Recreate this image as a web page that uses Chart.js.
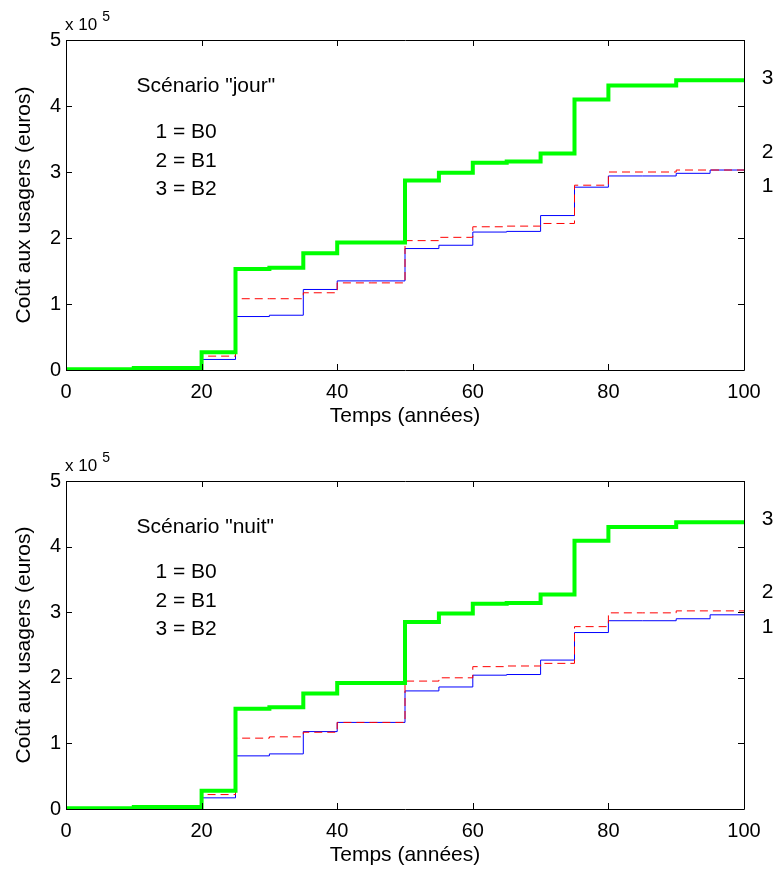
<!DOCTYPE html>
<html>
<head>
<meta charset="utf-8">
<script src="https://cdn.jsdelivr.net/npm/chart.js@4.4.0/dist/chart.umd.min.js"></script>
<style>
  body { margin: 0; background: #fff; }
  .box { position: absolute; left: 0; width: 775px; height: 436px; }
</style>
</head>
<body>
<div class="box" style="top:0"><canvas id="jourChart"></canvas></div>
<div class="box" style="top:436px"><canvas id="nuitChart"></canvas></div>
<script>
// années, pas de 5 ans ; coûts en unités de 10^5 euros
var years = [0, 5, 10, 15, 20, 25, 30, 35, 40, 45, 50, 55, 60, 65, 70, 75, 80, 85, 90, 95, 100];

var jourB0 = [0, 0, 0.01, 0.01, 0.16, 0.81, 0.83, 1.22, 1.35, 1.35, 1.84, 1.89, 2.09, 2.10, 2.34, 2.77, 2.94, 2.94, 2.98, 3.03, 3.03];
var jourB1 = [0, 0, 0.01, 0.01, 0.21, 1.08, 1.08, 1.17, 1.32, 1.32, 1.96, 2.01, 2.17, 2.18, 2.22, 2.80, 3.00, 3.00, 3.03, 3.03, 3.03];
var jourB2 = [0.01, 0.01, 0.03, 0.03, 0.27, 1.53, 1.55, 1.77, 1.93, 1.93, 2.87, 2.99, 3.14, 3.16, 3.28, 4.10, 4.31, 4.31, 4.39, 4.39, 4.39];

var nuitB0 = [0, 0, 0.01, 0.01, 0.17, 0.81, 0.84, 1.18, 1.32, 1.32, 1.80, 1.86, 2.04, 2.05, 2.27, 2.69, 2.87, 2.87, 2.90, 2.96, 2.96];
var nuitB1 = [0, 0, 0.01, 0.01, 0.22, 1.08, 1.10, 1.17, 1.32, 1.32, 1.95, 2.00, 2.17, 2.18, 2.22, 2.78, 2.99, 2.99, 3.02, 3.02, 3.02];
var nuitB2 = [0.01, 0.01, 0.03, 0.03, 0.28, 1.53, 1.55, 1.76, 1.92, 1.92, 2.85, 2.98, 3.13, 3.14, 3.27, 4.09, 4.30, 4.30, 4.37, 4.37, 4.37];

var xTicks = [0, 20, 40, 60, 80, 100];
var yTicks = [0, 1, 2, 3, 4, 5];
var legendLines = ["1 = B0", "2 = B1", "3 = B2"];
var curveNames = ["1", "2", "3"];

var FONT = "'Liberation Sans', Arial, Helvetica, sans-serif";

function toPoints(values)
{
    return values.map(function (v, i) { return { x: years[i], y: v }; });
}

// boite et graduations vers l'interieur, comme matlab, plus les textes
var matlabAxes = {
    id: "matlabAxes",
    afterDraw: function (chart, args, opts)
    {
        var ctx = chart.ctx;
        var a = chart.chartArea;
        var xs = chart.scales.x, ys = chart.scales.y;
        ctx.save();
        ctx.strokeStyle = "#000";
        ctx.lineWidth = 1;
        ctx.beginPath();
        ctx.rect(Math.round(a.left) + 0.5, Math.round(a.top) + 0.5,
                 Math.round(a.right - a.left), Math.round(a.bottom - a.top));
        xTicks.forEach(function (t) {
            var px = Math.round(xs.getPixelForValue(t)) + 0.5;
            ctx.moveTo(px, a.bottom); ctx.lineTo(px, a.bottom - 6);
            ctx.moveTo(px, a.top); ctx.lineTo(px, a.top + 6);
        });
        yTicks.forEach(function (t) {
            var py = Math.round(ys.getPixelForValue(t)) + 0.5;
            ctx.moveTo(a.left, py); ctx.lineTo(a.left + 6, py);
            ctx.moveTo(a.right, py); ctx.lineTo(a.right - 6, py);
        });
        ctx.stroke();

        ctx.fillStyle = "#000";
        ctx.textBaseline = "alphabetic";
        ctx.textAlign = "left";
        // x 10^5
        ctx.font = "17px " + FONT;
        var w = ctx.measureText("x 10").width;
        ctx.fillText("x 10", a.left - 1, a.top - 10);
        ctx.font = "14px " + FONT;
        ctx.fillText("5", a.left - 1 + w + 5, a.top - 19);

        ctx.font = "21px " + FONT;
        ctx.fillText(opts.title, xs.getPixelForValue(10.4), ys.getPixelForValue(4.21));
        var rows = [3.515, 3.076, 2.65];
        legendLines.forEach(function (s, i) {
            ctx.fillText(s, xs.getPixelForValue(13.2), ys.getPixelForValue(rows[i]));
        });
        var ends = [2.69, 3.21, 4.33];
        curveNames.forEach(function (s, i) {
            ctx.fillText(s, xs.getPixelForValue(102.6), ys.getPixelForValue(ends[i]));
        });
        ctx.restore();
    }
};

function makeChart(id, title, b0, b1, b2, padTop, plotBottom)
{
    var axisH = 436 - plotBottom;
    var ctx = document.getElementById(id).getContext("2d");
    return new Chart(ctx, {
        type: "line",
        data: {
            datasets: [
                {
                    label: "3 = B2",
                    data: toPoints(b2),
                    borderColor: "#00ff00",
                    borderWidth: 4,
                    stepped: "before",
                    pointRadius: 0,
                    fill: false,
                },
                {
                    label: "2 = B1",
                    data: toPoints(b1),
                    borderColor: "#ff0000",
                    borderWidth: 1,
                    borderDash: [8, 5],
                    stepped: "before",
                    pointRadius: 0,
                    fill: false,
                },
                {
                    label: "1 = B0",
                    data: toPoints(b0),
                    borderColor: "#0000ff",
                    borderWidth: 1,
                    stepped: "before",
                    pointRadius: 0,
                    fill: false,
                },
            ],
        },
        options: {
            responsive: true,
            maintainAspectRatio: false,
            animation: false,
            layout: { padding: { top: padTop, right: 31, left: 0, bottom: 0 } },
            scales: {
                x: {
                    type: "linear",
                    min: 0,
                    max: 100,
                    afterBuildTicks: function (s) { s.ticks = xTicks.map(function (v) { return { value: v }; }); },
                    afterFit: function (s) { s.height = axisH; },
                    grid: { display: false, drawTicks: false },
                    border: { display: false },
                    ticks: { color: "#000", padding: 10, maxRotation: 0, font: { family: FONT, size: 20 } },
                    title: {
                        display: true,
                        text: "Temps (années)",
                        color: "#000",
                        font: { family: FONT, size: 21 },
                        padding: { top: 0, bottom: axisH - 59.1 },
                    },
                },
                y: {
                    min: 0,
                    max: 5,
                    afterBuildTicks: function (s) { s.ticks = yTicks.map(function (v) { return { value: v }; }); },
                    afterFit: function (s) { s.width = 66; },
                    grid: { display: false, drawTicks: false },
                    border: { display: false },
                    ticks: { color: "#000", padding: 5, font: { family: FONT, size: 20 } },
                    title: {
                        display: true,
                        text: "Coût aux usagers (euros)",
                        color: "#000",
                        font: { family: FONT, size: 21 },
                        padding: { top: 12, bottom: 0 },
                    },
                },
            },
            plugins: {
                legend: { display: false },
                tooltip: { enabled: false },
                matlabAxes: { title: title },
            },
        },
        plugins: [matlabAxes],
    });
}

makeChart("jourChart", "Scénario \"jour\"", jourB0, jourB1, jourB2, 40, 370);
makeChart("nuitChart", "Scénario \"nuit\"", nuitB0, nuitB1, nuitB2, 45, 373);
</script>
</body>
</html>
